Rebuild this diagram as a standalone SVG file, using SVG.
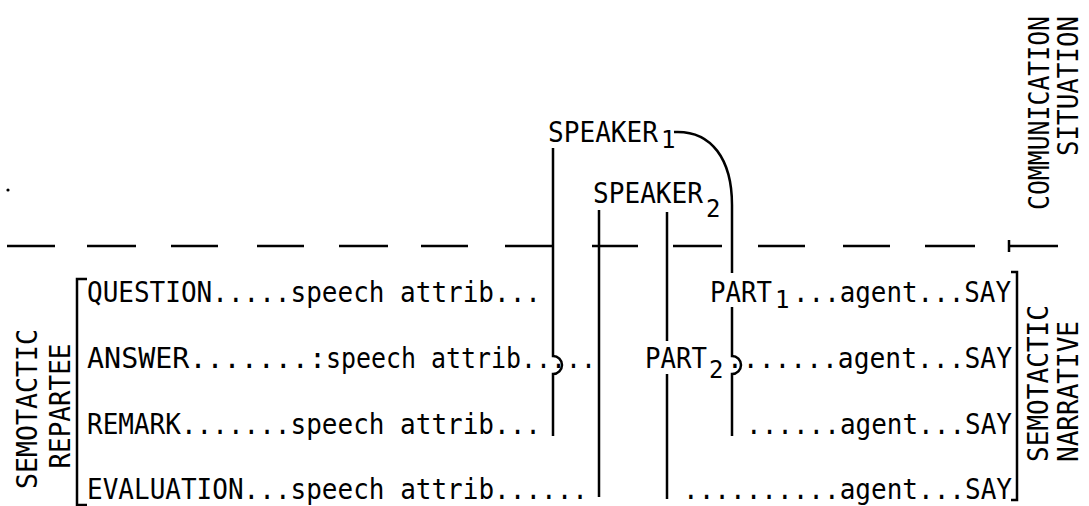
<svg xmlns="http://www.w3.org/2000/svg" width="1089" height="506" viewBox="0 0 1089 506">
<style>
text{font-family:"DejaVu Sans Mono","Liberation Mono",monospace;font-size:28px;fill:#000}
.sub{font-size:24px}
.ln{fill:none;stroke:#000;stroke-width:2.5}
.dash{fill:none;stroke:#000;stroke-width:2.5}
</style>
<rect width="1089" height="506" fill="#fff"/>
<circle cx="8" cy="190" r="1.6" fill="#000"/>
<g id="labels">
<text transform="translate(1049,16) rotate(-90)" text-anchor="end" textLength="194" lengthAdjust="spacingAndGlyphs">COMMUNICATION</text>
<text transform="translate(1078,16) rotate(-90)" text-anchor="end" textLength="140" lengthAdjust="spacingAndGlyphs">SITUATION</text>
<text transform="translate(37,409) rotate(-90)" text-anchor="middle" textLength="160" lengthAdjust="spacingAndGlyphs">SEMOTACTIC</text>
<text transform="translate(70,406) rotate(-90)" text-anchor="middle" textLength="125" lengthAdjust="spacingAndGlyphs">REPARTEE</text>
<text transform="translate(1048,462) rotate(-90)" textLength="157" lengthAdjust="spacingAndGlyphs">SEMOTACTIC</text>
<text transform="translate(1078,462) rotate(-90)" textLength="141" lengthAdjust="spacingAndGlyphs">NARRATIVE</text>
</g>
<g id="speaker1"><text x="548" y="142" textLength="110" lengthAdjust="spacingAndGlyphs">SPEAKER</text><text class="sub" x="661" y="148">1</text></g>
<g id="speaker2"><text x="593" y="203" textLength="110" lengthAdjust="spacingAndGlyphs">SPEAKER</text><text class="sub" x="706" y="217">2</text></g>
<g id="repartee">
<path class="ln" d="M87 279 H77 V505 H87"/>
<text x="87" y="302" textLength="454" lengthAdjust="spacingAndGlyphs">QUESTION.....speech attrib...</text>
<text x="87" y="368" textLength="239" lengthAdjust="spacingAndGlyphs">ANSWER.......:</text>
<text x="326" y="368" textLength="270" lengthAdjust="spacingAndGlyphs">speech attrib.....</text>
<text x="87" y="434" textLength="454" lengthAdjust="spacingAndGlyphs">REMARK.......speech attrib...</text>
<text x="87" y="499" textLength="501" lengthAdjust="spacingAndGlyphs">EVALUATION...speech attrib......</text>
</g>
<g id="narrative">
<path class="ln" d="M1011 272 H1017 V500 H1011"/>
<g id="part1"><text x="710" y="302" textLength="62" lengthAdjust="spacingAndGlyphs">PART</text><text class="sub" x="775" y="308">1</text></g>
<text x="793" y="302" textLength="218" lengthAdjust="spacingAndGlyphs">...agent...SAY</text>
<g id="part2"><text x="645" y="368" textLength="62" lengthAdjust="spacingAndGlyphs">PART</text><text class="sub" x="709" y="378">2</text></g>
<text x="1012" y="368" text-anchor="end" textLength="285" lengthAdjust="spacingAndGlyphs">.......agent...SAY</text>
<text x="1012" y="434" text-anchor="end" textLength="266" lengthAdjust="spacingAndGlyphs">......agent...SAY</text>
<text x="1012" y="499" text-anchor="end" textLength="329" lengthAdjust="spacingAndGlyphs">..........agent...SAY</text>
</g>
<g id="connectors">
<path class="dash" d="M7 246H55M87 246H136M171 246H218M257 246H304M339 246H388M421 246H468M505 246H553M592 246H638M673 246H722M758 246H805M843 246H890M925 246H975M1008 246H1058M1009 240V252"/>
<path class="ln" d="M553 148V356A9 9 0 0 1 553 374V436"/>
<path class="ln" d="M599 210V497"/>
<path class="ln" d="M667 212V341M667 374V499"/>
<path class="ln" d="M674 132C712 130 732 160 732 205V273M732 307V356A9 9 0 0 1 732 374V436"/>
</g>
</svg>
